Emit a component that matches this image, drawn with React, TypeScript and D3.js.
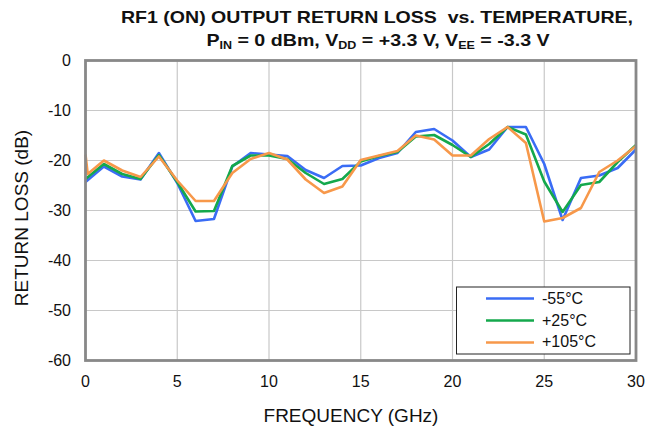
import React from "react";
import * as d3 from "d3";

const freq = d3.range(0, 31);
const freqOrange = [0, 0.12, ...d3.range(1, 31)];

const seriesM55 = [-24.3, -21.2, -23.2, -23.8, -18.5, -24.5, -32.1, -31.7, -21.2, -18.5, -18.8, -19.1, -21.9, -23.5, -21.1, -21.0, -19.5, -18.5, -14.3, -13.7, -16.0, -19.3, -17.8, -13.3, -13.3, -20.7, -31.9, -23.5, -23.0, -21.5, -17.8];
const seriesP25 = [-23.7, -20.7, -22.7, -23.7, -18.9, -24.3, -30.2, -30.1, -21.1, -19.0, -19.0, -19.7, -22.5, -24.7, -23.7, -20.2, -19.1, -18.3, -15.2, -14.9, -16.9, -19.3, -16.7, -13.3, -14.8, -24.2, -30.3, -24.9, -24.3, -20.3, -16.9];
const seriesP105 = [-18.8, -22.7, -20.0, -22.0, -23.3, -19.2, -24.0, -28.1, -28.1, -22.5, -19.7, -18.5, -19.8, -23.8, -26.5, -25.2, -19.9, -19.0, -18.1, -15.0, -15.8, -19.0, -19.0, -15.7, -13.3, -16.5, -32.2, -31.5, -29.5, -22.3, -20.0, -17.1];

const xTicks = [0, 5, 10, 15, 20, 25, 30];
const yTicks = [0, -10, -20, -30, -40, -50, -60];
const legendLabels = ["-55°C", "+25°C", "+105°C"];
const colors = ["#3a6cf5", "#14a84c", "#f7984a"];

const FONT = "'Liberation Sans', Arial, sans-serif";

export default function App() {
  const left = 85.5, right = 636, top = 60.5, bottom = 360.5;
  const x = d3.scaleLinear().domain([0, 30]).range([left, right]);
  const y = d3.scaleLinear().domain([-60, 0]).range([bottom, top]);
  const line = d3.line<[number, number]>().x(d => x(d[0])).y(d => y(d[1]));

  const series = [
    { xs: freq, ys: seriesM55 },
    { xs: freq, ys: seriesP25 },
    { xs: freqOrange, ys: seriesP105 },
  ];

  const legX = 456.5, legY = 287, legW = 173.5, legH = 67;

  return (
    <svg width={646} height={426} style={{ position: "absolute", left: 0, top: 0 }} fontFamily={FONT}>
      <rect x={0} y={0} width={646} height={426} fill="#fff" />
      {/* title */}
      <text x={121} y={23.3} fontWeight="bold" fontSize={16.5} fill="#111" textLength={512} lengthAdjust="spacingAndGlyphs">
        RF1 (ON) OUTPUT RETURN LOSS{"\u00a0\u00a0"}vs. TEMPERATURE,
      </text>
      <g transform="translate(378,45.7) scale(1.19,1)">
        <text x={0} y={0} textAnchor="middle" fontWeight="bold" fontSize={16.5} fill="#111">
          P<tspan fontSize={10.5} dy={3}>IN</tspan><tspan dy={-3}> = 0 dBm, V</tspan><tspan fontSize={10.5} dy={3}>DD</tspan><tspan dy={-3}> = +3.3 V, V</tspan><tspan fontSize={10.5} dy={3}>EE</tspan><tspan dy={-3}> = -3.3 V</tspan>
        </text>
      </g>
      {/* grid */}
      {xTicks.map(t => (
        <line key={"gx" + t} x1={x(t)} x2={x(t)} y1={top} y2={bottom} stroke="#c8c8c8" strokeWidth={1.2} />
      ))}
      {yTicks.map(t => (
        <line key={"gy" + t} x1={left} x2={right} y1={y(t)} y2={y(t)} stroke="#c8c8c8" strokeWidth={1.2} />
      ))}
      {/* lines */}
      {series.map((s, i) => (
        <path
          key={i}
          d={line(s.xs.map((xv, j) => [xv, s.ys[j]] as [number, number])) || ""}
          fill="none"
          stroke={colors[i]}
          strokeWidth={2.6}
          strokeLinejoin="round"
        />
      ))}
      {/* border */}
      <rect x={left} y={top} width={right - left} height={bottom - top} fill="none" stroke="#888" strokeWidth={2.8} />
      {/* tick labels */}
      {yTicks.map(t => (
        <text key={"ty" + t} x={71} y={y(t) + 5.5} textAnchor="end" fontSize={16} fill="#111">{t}</text>
      ))}
      {xTicks.map(t => (
        <text key={"tx" + t} x={x(t)} y={386.5} textAnchor="middle" fontSize={16} fill="#111">{t}</text>
      ))}
      {/* axis titles */}
      <text x={351} y={421.5} textAnchor="middle" fontSize={19} fill="#111">FREQUENCY (GHz)</text>
      <text transform={`translate(27.5,218) rotate(-90)`} textAnchor="middle" fontSize={19} fill="#111">RETURN LOSS (dB)</text>
      {/* legend */}
      <rect x={legX} y={legY} width={legW} height={legH} fill="#fff" stroke="#222" strokeWidth={1} />
      {legendLabels.map((lab, i) => (
        <g key={lab}>
          <line x1={486} x2={534} y1={298.5 + i * 22} y2={298.5 + i * 22} stroke={colors[i]} strokeWidth={2.6} />
          <text x={542} y={304 + i * 21.5} fontSize={16} fill="#111">{lab}</text>
        </g>
      ))}
    </svg>
  );
}
